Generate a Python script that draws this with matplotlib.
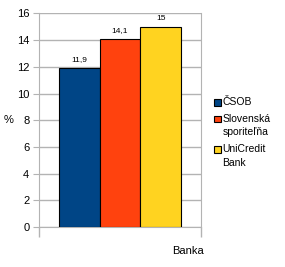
import matplotlib.pyplot as plt
from matplotlib.patches import Rectangle

plt.rcParams['font.family'] = ['Liberation Sans', 'DejaVu Sans']

banks = ['ČSOB', 'Slovenská\nsporiteľňa', 'UniCredit\nBank']
values = [11.9, 14.1, 15]
value_labels = ['11,9', '14,1', '15']
colors = ['#004586', '#ff420e', '#ffd320']

W, H = 285, 267
fig = plt.figure(figsize=(W / 100, H / 100), dpi=100)
ax = fig.add_axes([0.1368, 0.1498, 0.568, 0.800])

x = list(range(len(values)))
bars = ax.bar(x, values, width=1.0, color=colors, edgecolor='black', linewidth=0.8, zorder=3)
for b, lab in zip(bars, value_labels):
    ax.text(b.get_x() + b.get_width() / 2, b.get_height() + 0.35, lab,
            ha='center', va='bottom', fontsize=6)

ax.set_ylim(0, 16)
ax.set_yticks(range(0, 17, 2))
ax.set_xlim(-0.988, 2.988)
ax.set_xticks([-0.988, 2.988])
ax.set_xticklabels(['', ''])
ax.tick_params(axis='x', length=7, color='#b3b3b3', width=1)
ax.tick_params(axis='y', length=4, color='#b3b3b3', labelsize=8, pad=3)
ax.grid(axis='y', color='#b3b3b3', linewidth=1, zorder=0)

ax.spines['top'].set_visible(False)
for s in ['right', 'left', 'bottom']:
    ax.spines[s].set_color('#b3b3b3')

ax.set_ylabel('%', rotation=0, fontsize=8, va='center')
ax.yaxis.set_label_coords(-0.19, 0.5)
ax.set_xlabel('Banka', fontsize=8)
ax.xaxis.set_label_coords(0.92, -0.09)

# legend drawn by hand so the square sits on the first text line
line_h = 14
y = 102
for c, name in zip(colors, banks):
    fig.patches.append(Rectangle((214 / W, 1 - (y + 3.5) / H), 6.5 / W, 6.5 / H,
                                 transform=fig.transFigure, facecolor=c,
                                 edgecolor='black', linewidth=0.8))
    fig.text(222.5 / W, 1 - (y - 5) / H, name, fontsize=7.5, va='top', ha='left',
             linespacing=1.45)
    y += line_h * (name.count('\n') + 1) + 2.5

fig.savefig('out.png', dpi=100)
